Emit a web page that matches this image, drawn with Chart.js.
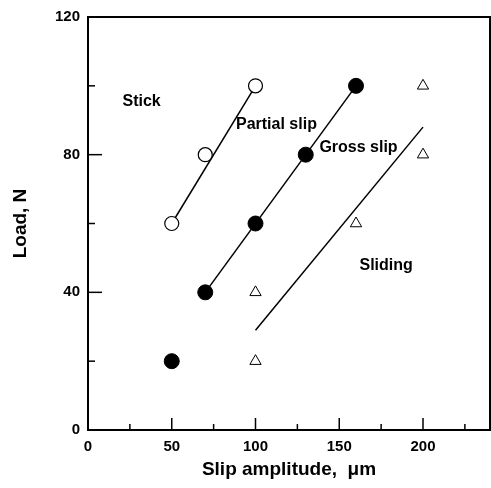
<!DOCTYPE html>
<html>
<head>
<meta charset="utf-8">
<script src="https://cdn.jsdelivr.net/npm/chart.js@4"></script>
<style>
  html, body { margin: 0; padding: 0; background: #fff; }
  #wrap { width: 491px; height: 488px; }
</style>
</head>
<body>
<div id="wrap"><canvas id="chart"></canvas></div>
<script>
// данные
const openX = [50, 70, 100];
const openY = [60, 80, 100];
const filledX = [50, 70, 100, 130, 160];
const filledY = [20, 40, 60, 80, 100];
const triX = [100, 100, 160, 200, 200];
const triY = [20, 40, 60, 80, 100];
// граничные линии
const stickLineX = [50, 100];
const stickLineY = [60, 100];
const grossLineX = [70, 160];
const grossLineY = [40, 100];
const slideLineX = [100, 200];
const slideLineY = [29, 88];
// подписи областей
const regionNames = ["Stick", "Partial slip", "Gross slip", "Sliding"];
const regionX = [32, 112.5, 161.5, 178];
const regionY = [95.3, 88.6, 82.2, 47.9];
const xTicks = [0, 50, 100, 150, 200];
const yTicks = [0, 40, 80, 120];

function pts(xs, ys) {
    return xs.map((x, i) => ({ x: x, y: ys[i] }));
}

const fontFamily = "'Liberation Sans', Arial, sans-serif";

// рамка, внутренние засечки и подписи областей
const framePlugin = {
    id: "frame",
    afterDatasetsDraw(chart) {
        const ctx = chart.ctx;
        const a = chart.chartArea;
        const xs = chart.scales.x;
        const ys = chart.scales.y;
        ctx.save();
        ctx.strokeStyle = "#000";
        ctx.lineWidth = 2;
        ctx.strokeRect(a.left, a.top, a.right - a.left, a.bottom - a.top);
        ctx.lineWidth = 1.5;
        for (let v = 0; v <= 225; v += 25) {
            const px = xs.getPixelForValue(v);
            const len = v % 50 === 0 ? 12 : 6;
            ctx.beginPath();
            ctx.moveTo(px, a.bottom);
            ctx.lineTo(px, a.bottom - len);
            ctx.stroke();
        }
        for (let v = 0; v <= 120; v += 20) {
            const py = ys.getPixelForValue(v);
            const len = v % 40 === 0 ? 14 : 7;
            ctx.beginPath();
            ctx.moveTo(a.left, py);
            ctx.lineTo(a.left + len, py);
            ctx.stroke();
        }
        ctx.fillStyle = "#000";
        ctx.font = "bold 16px " + fontFamily;
        ctx.textAlign = "center";
        ctx.textBaseline = "middle";
        for (let i = 0; i < regionNames.length; i++) {
            ctx.fillText(
                regionNames[i],
                xs.getPixelForValue(regionX[i]),
                ys.getPixelForValue(regionY[i])
            );
        }
        ctx.restore();
    },
};

const lineStyle = {
    showLine: true,
    borderColor: "#000",
    borderWidth: 1.5,
    pointRadius: 0,
    order: 5,
};

new Chart(document.getElementById("chart"), {
    type: "scatter",
    data: {
        datasets: [
            Object.assign({ data: pts(stickLineX, stickLineY) }, lineStyle),
            Object.assign({ data: pts(grossLineX, grossLineY) }, lineStyle),
            Object.assign({ data: pts(slideLineX, slideLineY) }, lineStyle),
            {
                data: pts(openX, openY),
                pointStyle: "circle",
                pointRadius: 7,
                backgroundColor: "#fff",
                borderColor: "#000",
                borderWidth: 1.2,
                order: 1,
            },
            {
                data: pts(filledX, filledY),
                pointStyle: "circle",
                pointRadius: 7.5,
                backgroundColor: "#000",
                borderColor: "#000",
                borderWidth: 1,
                order: 1,
            },
            {
                data: pts(triX, triY),
                pointStyle: "triangle",
                pointRadius: 6.5,
                backgroundColor: "#fff",
                borderColor: "#000",
                borderWidth: 1,
                order: 1,
            },
        ],
    },
    options: {
        responsive: true,
        maintainAspectRatio: false,
        animation: false,
        events: [],
        layout: {
            autoPadding: false,
            padding: { top: 17, right: 1, left: 0, bottom: 0 },
        },
        plugins: {
            legend: { display: false },
            tooltip: { enabled: false },
        },
        scales: {
            x: {
                type: "linear",
                min: 0,
                max: 240,
                afterBuildTicks(scale) {
                    scale.ticks = xTicks.map((v) => ({ value: v }));
                },
                afterFit(scale) {
                    scale.height = 58;
                    scale.paddingLeft = 0;
                    scale.paddingRight = 0;
                },
                grid: { display: false, drawTicks: false },
                border: { display: false },
                ticks: {
                    color: "#000",
                    padding: 8,
                    maxRotation: 0,
                    font: { family: fontFamily, size: 15, weight: "bold" },
                },
                title: {
                    display: true,
                    text: "Slip amplitude,  μm",
                    color: "#000",
                    padding: { top: 10, bottom: 7 },
                    font: { family: fontFamily, size: 19, weight: "bold" },
                },
            },
            y: {
                type: "linear",
                min: 0,
                max: 120,
                afterBuildTicks(scale) {
                    scale.ticks = yTicks.map((v) => ({ value: v }));
                },
                afterFit(scale) {
                    scale.width = 88;
                    scale.paddingTop = 0;
                    scale.paddingBottom = 0;
                },
                grid: { display: false, drawTicks: false },
                border: { display: false },
                ticks: {
                    color: "#000",
                    padding: 8,
                    font: { family: fontFamily, size: 15, weight: "bold" },
                },
                title: {
                    display: true,
                    text: "Load, N",
                    color: "#000",
                    padding: { top: 9, bottom: 0 },
                    font: { family: fontFamily, size: 19, weight: "bold" },
                },
            },
        },
    },
    plugins: [framePlugin],
});
</script>
</body>
</html>
